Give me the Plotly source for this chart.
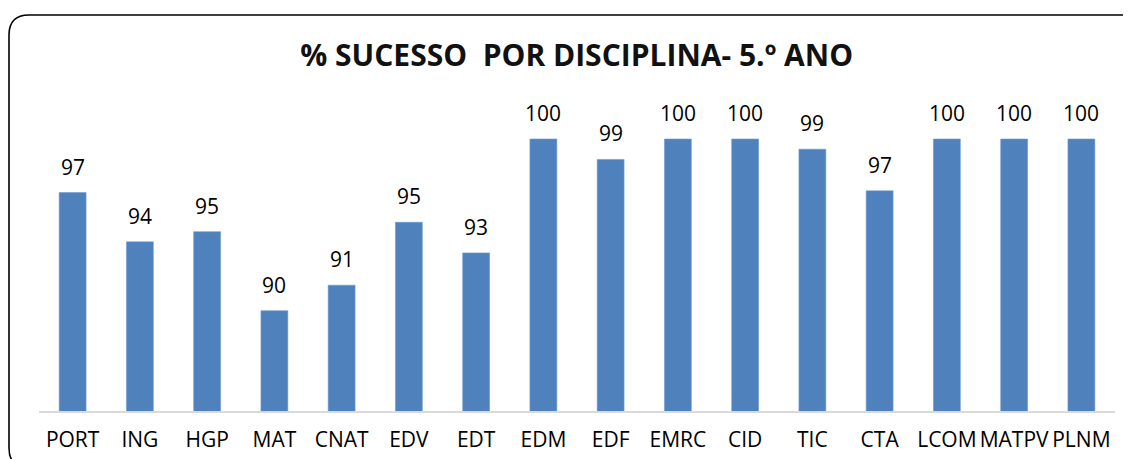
import plotly.graph_objects as go

categories = ["PORT", "ING", "HGP", "MAT", "CNAT", "EDV", "EDT", "EDM", "EDF",
              "EMRC", "CID", "TIC", "CTA", "LCOM", "MATPV", "PLNM"]
success = [96.85, 93.95, 94.55, 89.9, 91.4, 95.1, 93.3, 100, 98.8,
           100, 100, 99.4, 96.95, 100, 100, 100]
labels = [f"{v:.0f}" for v in success]

W, H = 1131, 459
OFF = 8  # page body margin offset
# plot area in screenshot pixels: x 39..1115, y 139(100%)..411(base)
L, R, T, B = 39 - OFF, 1131 - 1115 + OFF, 100 - OFF, 459 - 411 + OFF
pw, ph = W - L - R, H - T - B

def px(x):
    return (x - OFF - L) / pw

def py(y):
    return (H - B - (y - OFF)) / ph

# rounded frame around the chart (pixel geometry converted to paper coords)
x0, y0, x1, y1, r = 9, 15, 1142, 468, 20
path = (f"M {px(x0 + r)},{py(y0)} L {px(x1 - r)},{py(y0)} "
        f"Q {px(x1)},{py(y0)} {px(x1)},{py(y0 + r)} "
        f"L {px(x1)},{py(y1 - r)} Q {px(x1)},{py(y1)} {px(x1 - r)},{py(y1)} "
        f"L {px(x0 + r)},{py(y1)} Q {px(x0)},{py(y1)} {px(x0)},{py(y1 - r)} "
        f"L {px(x0)},{py(y0 + r)} Q {px(x0)},{py(y0)} {px(x0 + r)},{py(y0)} Z")

fig = go.Figure(go.Bar(
    x=categories, y=success, cliponaxis=False,
    marker=dict(color="#4f81bd", line=dict(color="#6f9bd0", width=0.6)),
))

annotations = [dict(x=c, y=v, text=t, xref="x", yref="y", showarrow=False,
                    yanchor="bottom", yshift=10,
                    font=dict(family="Open Sans", size=21, color="#000000"))
               for c, v, t in zip(categories, success, labels)]

fig.update_layout(
    width=W, height=H,
    margin=dict(l=L, r=R, t=T, b=B, pad=0),
    paper_bgcolor="white", plot_bgcolor="white",
    bargap=0.6, showlegend=False,
    title=dict(text="% SUCESSO\u00a0 POR DISCIPLINA- 5.º ANO",
               x=px(580), xanchor="center", y=1 - (55 - OFF) / H, yanchor="middle",
               font=dict(family="Open Sans", size=30, color="#111111", weight="bold")),
    xaxis=dict(showline=True, linecolor="#d9d9d9", linewidth=2, ticks="",
               showgrid=False, ticklabelstandoff=9,
               tickfont=dict(family="Open Sans", size=21, color="#000000")),
    yaxis=dict(range=[84, 100 + 39 / 17], visible=False, showgrid=False),
    annotations=annotations,
    shapes=[dict(type="path", path=path, xref="paper", yref="paper",
                 line=dict(color="#000000", width=1.6), layer="above")],
)

fig.write_html("out.html")
